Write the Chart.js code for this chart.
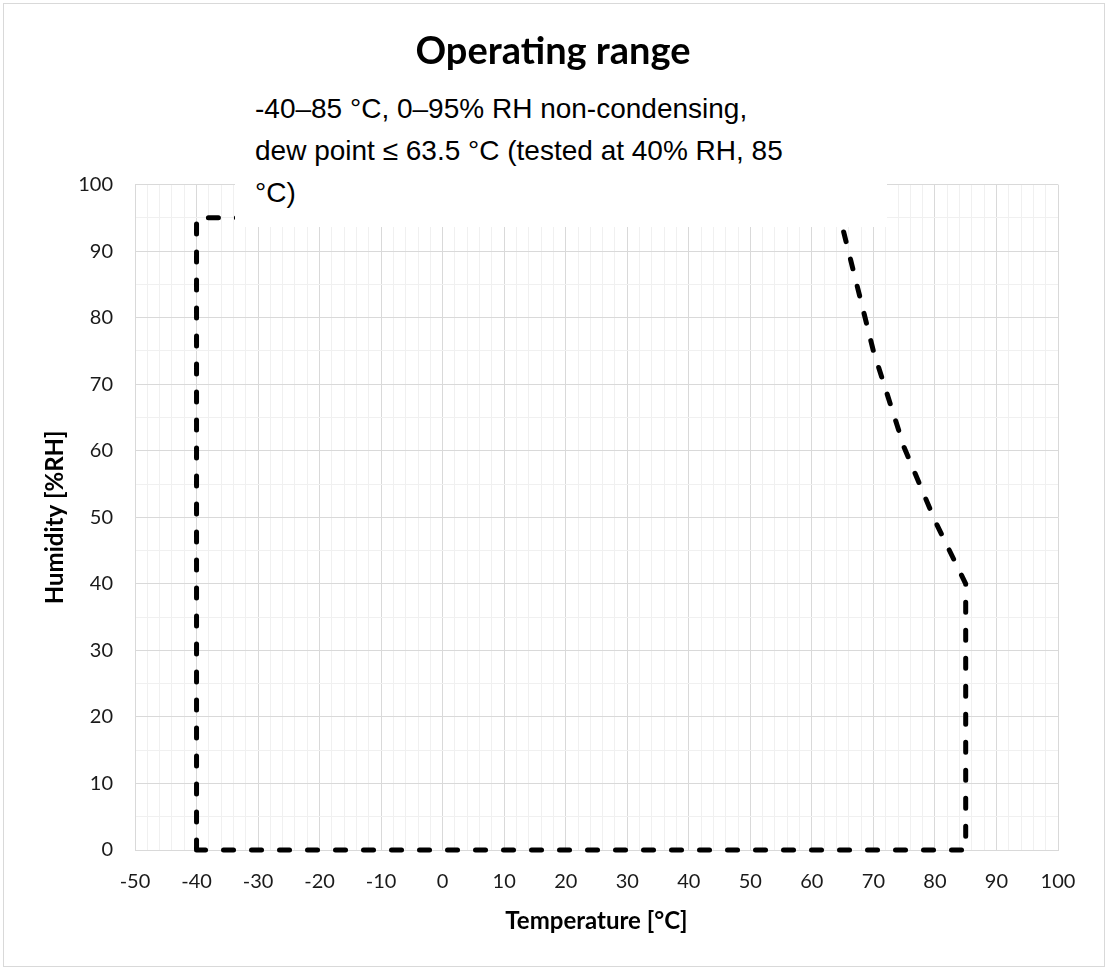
<!DOCTYPE html>
<html>
<head>
<meta charset="utf-8">
<script src="https://cdn.jsdelivr.net/npm/chart.js@4.4.1/dist/chart.umd.min.js"></script>
<style>
  html, body { margin: 0; padding: 0; background: #fff; }
  #wrap { position: relative; width: 1106px; height: 968px; }
  #frame { position: absolute; left: 3px; top: 3px; width: 1100px; height: 962px; border: 1px solid #d9d9d9; pointer-events: none; }
  #note {
    position: absolute; left: 235px; top: 88px; width: 632px; height: 139px;
    padding-left: 20px; background: #fff;
    font-family: 'Liberation Sans', Arial, sans-serif; font-size: 28px; line-height: 42px; color: #000;
    white-space: nowrap;
  }
</style>
</head>
<body>
<div id="wrap">
  <canvas id="myChart" width="1106" height="968"></canvas>
  <div id="note">-40–85 °C, 0–95% RH non-condensing,<br>dew point ≤ 63.5 °C (tested at 40% RH, 85<br>°C)</div>
  <div id="frame"></div>
</div>
<script>
const ctx = document.getElementById('myChart');

// operating range outline (dashed)
var temperatura = [-40, -40, 64, 65, 70, 75, 80, 85, 85, -40];
var umidade = [0, 95, 95, 93.5, 75, 60.5, 49.5, 40, 0, 0];

var xMin = -50, xMax = 100, xStep = 2;
var yMin = 0, yMax = 100, yStep = 5;

var pontos = temperatura.map(function (t, i) { return { x: t, y: umidade[i] }; });

Chart.defaults.font.family = 'Lato, "Open Sans", sans-serif';
Chart.defaults.color = '#1a1a1a';

function corGrade(c) {
    return c.tick && c.tick.value % 10 === 0 ? '#d9d9d9' : '#f0f0f0';
}

new Chart(ctx, {
    type: 'scatter',
    data: {
        datasets: [{
            label: 'Operating range',
            data: pontos,
            showLine: true,
            clip: false,
            borderColor: '#000',
            borderWidth: 5,
            borderDash: [10, 18],
            borderCapStyle: 'round',
            pointRadius: 0,
            tension: 0
        }]
    },
    options: {
        responsive: false,
        animation: false,
        // left padding mirrors the right one so the title sits on the page centre
        layout: { padding: { top: 0, left: 48, right: 48, bottom: 0 } },
        plugins: {
            legend: { display: false },
            tooltip: { enabled: false },
            title: {
                display: true,
                text: 'Operating range',
                color: '#000',
                font: { size: 38, weight: 'bold' },
                padding: { top: 29, bottom: 110 }
            }
        },
        scales: {
            x: {
                type: 'linear',
                min: xMin,
                max: xMax,
                afterFit: function (s) { s.height = 118; },
                ticks: {
                    stepSize: xStep,
                    autoSkip: false,
                    maxRotation: 0,
                    padding: 20,
                    font: { size: 20 },
                    callback: function (v) { return v % 10 === 0 ? v : ''; }
                },
                grid: { color: corGrade, drawTicks: false, lineWidth: 1 },
                border: { color: '#d9d9d9' },
                title: {
                    display: true,
                    text: 'Temperature [°C]',
                    color: '#000',
                    font: { size: 24, weight: 'bold' },
                    padding: { top: 0, bottom: 32 }
                }
            },
            y: {
                type: 'linear',
                min: yMin,
                max: yMax,
                afterFit: function (s) { s.width = 87; },
                ticks: {
                    stepSize: yStep,
                    autoSkip: false,
                    padding: 22,
                    font: { size: 20 },
                    callback: function (v) { return v % 10 === 0 ? v : ''; }
                },
                grid: { color: corGrade, drawTicks: false, lineWidth: 1 },
                border: { color: '#d9d9d9' },
                title: {
                    display: true,
                    text: 'Humidity [%RH]',
                    color: '#000',
                    font: { size: 24, weight: 'bold' },
                    padding: { top: -7, bottom: 0 }
                }
            }
        }
    }
});
</script>
</body>
</html>
